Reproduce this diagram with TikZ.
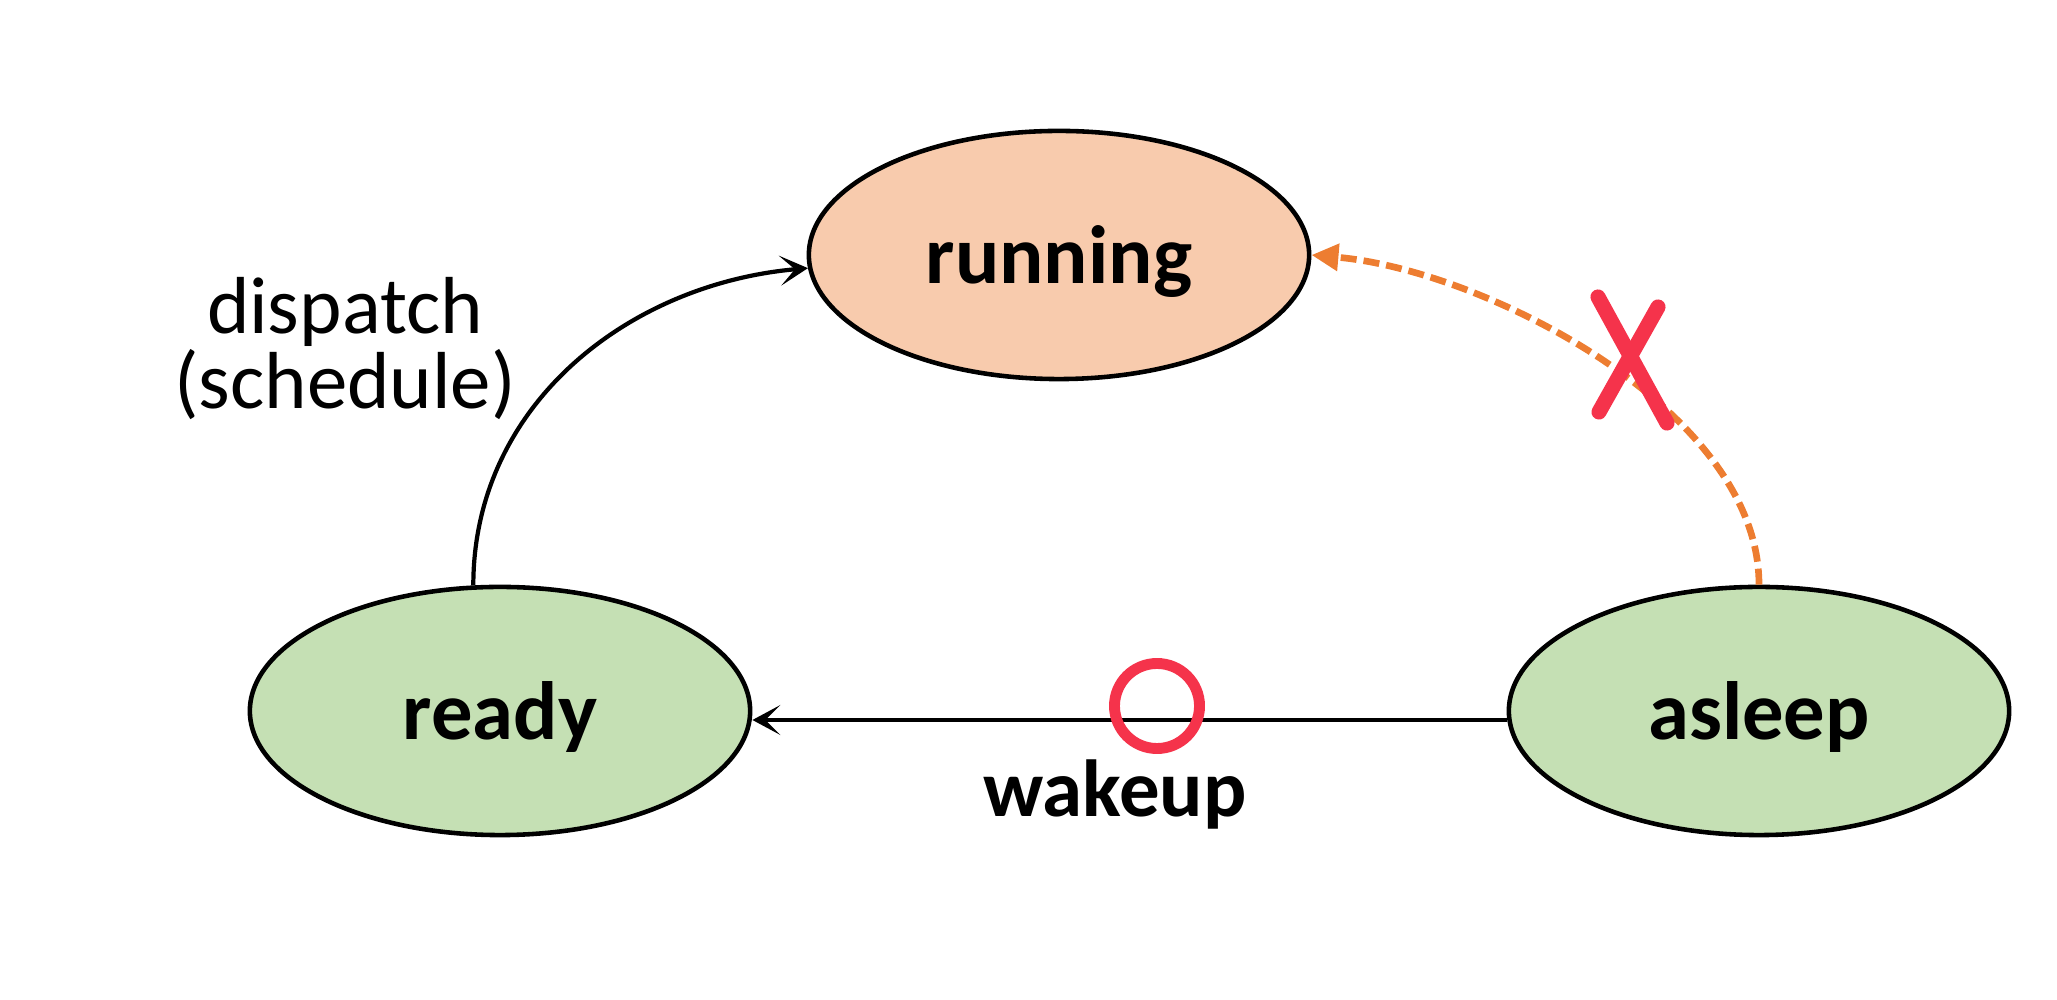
\documentclass[tikz,border=0pt]{standalone}
\usepackage{fontspec}
\setmainfont{Carlito}
\usetikzlibrary{shapes.geometric,arrows.meta}
\definecolor{peach}{HTML}{F8CBAD}
\definecolor{lgreen}{HTML}{C5E0B4}
\definecolor{orng}{HTML}{ED7D31}
\definecolor{xred}{HTML}{F5334B}
\begin{document}
\begin{tikzpicture}[x=0.01cm,y=0.01cm,
  state/.style={ellipse, draw=black, line width=1.3pt, minimum width=5cm, minimum height=2.48cm,
    inner sep=0pt, font=\bfseries\fontsize{23.5}{27}\selectfont, text height=0.86cm, text depth=0.3cm},
  conn/.style={line width=1.2pt, -{Stealth[length=0.28cm,width=0.3cm,inset=0.15cm]}},
  blocked/.style={orng, line width=1.9pt, dash pattern=on 0.16cm off 0.07cm,
    -{Triangle[length=0.27cm,width=0.26cm]}},
  lbl/.style={font=\fontsize{23}{20.2}\selectfont, align=center, inner sep=0pt},
  blbl/.style={font=\bfseries\fontsize{23}{27}\selectfont, inner sep=0pt},
  xmarkline/.style={xred, line width=4.3pt, line cap=round}]
\useasboundingbox (0,0) rectangle (2057,1000);
\node[state, fill=peach] (running) at (1059,745) {running};
\node[state, fill=lgreen] (ready) at (500,289) {ready};
\node[state, fill=lgreen] (asleep) at (1759,289) {asleep};
% dispatch
\draw[conn] (ready.102) to[out=90,in=185] (running.183);
\node[lbl, anchor=base] (dlbl) at (345,591) {dispatch\\(schedule)};
% blocked transition
\draw[blocked] (asleep.90) to[out=90,in=-5,looseness=0.8] (running.0);
\coordinate (x1a) at (1598,703);
\coordinate (x1b) at (1667,577);
\coordinate (x2a) at (1658,693);
\coordinate (x2b) at (1599,588);
\draw[xmarkline] (x1a) -- (x1b);
\draw[xmarkline] (x2a) -- (x2b);
% wakeup
\coordinate (wk) at (0,280);
\draw[conn] (asleep.west |- wk) -- (ready.east |- wk);
\node[xred, draw, line width=3.1pt, circle, minimum size=0.85cm, inner sep=0pt] (okc) at (1157,294) {};
\node[blbl, anchor=base] (wlbl) at (1115,183) {wakeup};
\end{tikzpicture}
\end{document}
